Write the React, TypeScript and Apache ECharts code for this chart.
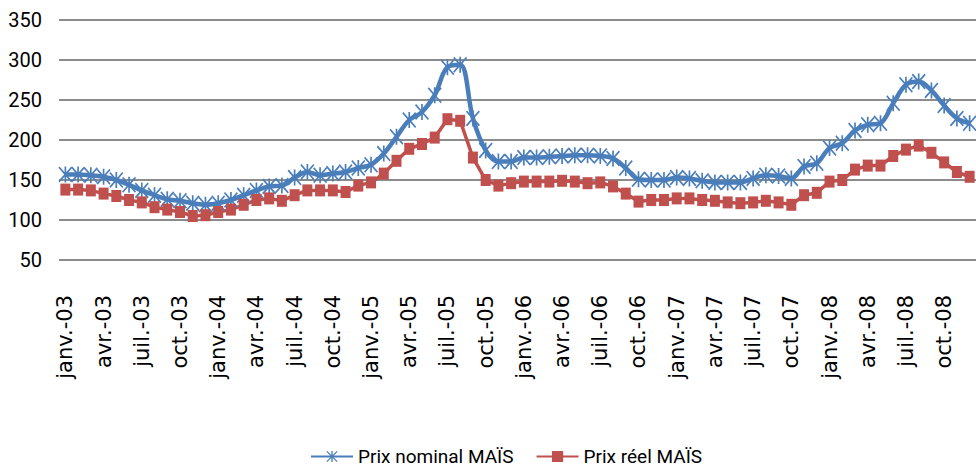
import React, { useEffect, useRef } from "react";
import * as echarts from "echarts";

const MONTHS = ["janv.", "févr.", "mars", "avr.", "mai", "juin", "juil.", "août", "sept.", "oct.", "nov.", "déc."];
const YEARS = ["03", "04", "05", "06", "07", "08"];
const categories: string[] = [];
YEARS.forEach((y) => MONTHS.forEach((m) => categories.push(m + "-" + y)));

const nominal2003 = [157, 157, 156, 154, 150, 144, 137, 131, 126, 124, 121, 119];
const nominal2004 = [121, 125, 131, 137, 142, 143, 153, 160, 156, 158, 160, 165];
const nominal2005 = [169, 183, 204, 225, 235, 256, 291, 294, 227, 187, 173, 173];
const nominal2006 = [178, 178, 179, 180, 181, 181, 180, 177, 165, 151, 150, 150];
const nominal2007 = [153, 152, 149, 147, 147, 147, 152, 156, 155, 152, 167, 171];
const nominal2008 = [190, 196, 212, 219, 221, 246, 269, 273, 262, 243, 227, 221];

const reel2003 = [138, 138, 137, 133, 130, 125, 122, 116, 113, 110, 105, 106];
const reel2004 = [110, 113, 119, 125, 127, 124, 131, 137, 137, 137, 135, 143];
const reel2005 = [147, 158, 174, 189, 195, 203, 226, 224, 178, 150, 143, 146];
const reel2006 = [148, 148, 148, 149, 148, 146, 147, 142, 133, 123, 125, 125];
const reel2007 = [127, 127, 125, 124, 122, 121, 122, 124, 122, 119, 131, 134];
const reel2008 = [148, 150, 163, 168, 168, 180, 188, 193, 184, 172, 160, 154];

const nominal = [...nominal2003, ...nominal2004, ...nominal2005, ...nominal2006, ...nominal2007, ...nominal2008];
const reel = [...reel2003, ...reel2004, ...reel2005, ...reel2006, ...reel2007, ...reel2008];

const SERIES_NAMES = ["Prix nominal MAÏS", "Prix réel MAÏS"];

const ASTERISK =
  "path://M44 0 L56 0 L56 100 L44 100 Z M0 8 L8 0 L100 92 L92 100 Z M92 0 L100 8 L8 100 L0 92 Z";

const NARROW = "Roboto, 'Liberation Sans', sans-serif";

export default function App() {
  const ref = useRef<HTMLDivElement>(null);
  useEffect(() => {
    if (!ref.current) return;
    const chart = echarts.init(ref.current, undefined, { renderer: "svg" });
    chart.setOption({
      animation: false,
      backgroundColor: "#ffffff",
      grid: { left: 59, top: 20, width: 922, bottom: 209, containLabel: false },
      xAxis: {
        type: "category",
        data: categories,
        boundaryGap: true,
        axisLine: { show: false },
        axisTick: { show: false },
        axisLabel: {
          interval: 2,
          rotate: 90,
          margin: 35,
          fontSize: 21,
          fontFamily: "'DejaVu Sans', sans-serif",
          color: "#000000",
        },
        splitLine: { show: false },
      },
      yAxis: {
        type: "value",
        min: 50,
        max: 350,
        interval: 50,
        axisLine: { show: false },
        axisTick: { show: false },
        axisLabel: {
          margin: 17,
          fontSize: 20,
          fontFamily: NARROW,
          color: "#000000",
        },
        splitLine: { show: true, lineStyle: { color: "#8c8c8c", width: 2 } },
      },
      legend: {
        left: 305,
        top: 442,
        itemWidth: 42,
        itemHeight: 14,
        itemGap: 22,
        textStyle: {
          fontSize: 19,
          fontFamily: NARROW,
          color: "#000000",
        },
        data: SERIES_NAMES,
      },
      series: [
        {
          name: SERIES_NAMES[0],
          type: "line",
          data: nominal,
          smooth: 0.35,
          symbol: ASTERISK,
          symbolSize: [14, 16],
          showAllSymbol: true,
          lineStyle: { color: "#4a7ebb", width: 4.5 },
          itemStyle: { color: "#4a7ebb" },
        },
        {
          name: SERIES_NAMES[1],
          type: "line",
          data: reel,
          smooth: false,
          symbol: "rect",
          symbolSize: [10, 12],
          showAllSymbol: true,
          lineStyle: { color: "#c0504d", width: 3.5 },
          itemStyle: { color: "#c0504d" },
        },
      ],
    });
    return () => chart.dispose();
  }, []);
  return (
    <div
      ref={ref}
      style={{ position: "fixed", left: 0, top: 0, width: 976, height: 469, background: "#fff" }}
    />
  );
}
